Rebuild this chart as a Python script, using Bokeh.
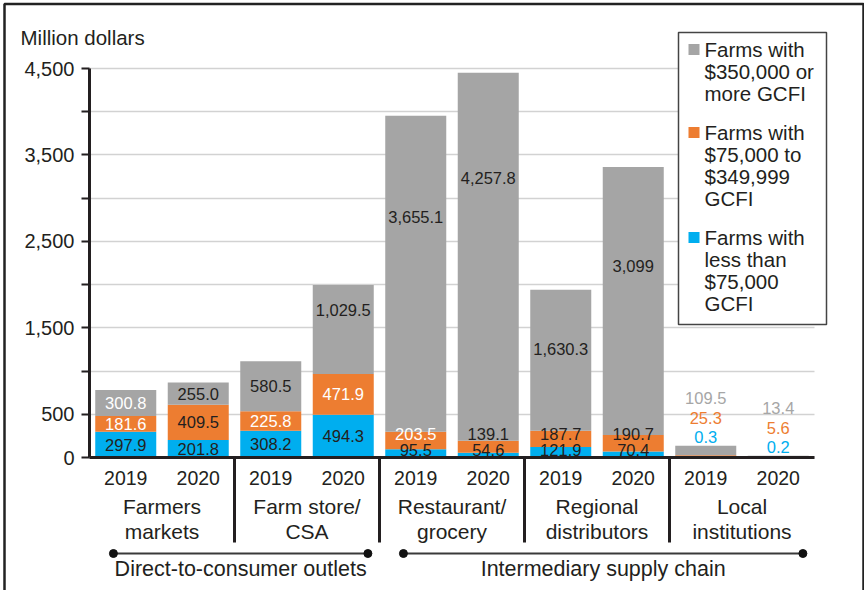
import numpy as np
from bokeh.plotting import figure
from bokeh.models import (ColumnDataSource, Range1d, FixedTicker, NumeralTickFormatter,
                          Label, BoxAnnotation, Grid)
from bokeh.core.properties import value
from bokeh.embed import file_html
from bokeh.resources import INLINE

# ---------------- data ----------------
channels = ["Farmers\nmarkets", "Farm store/\nCSA", "Restaurant/\ngrocery",
            "Regional\ndistributors", "Local\ninstitutions"]
years = ["2019", "2020"]
outlet_types = ["Direct-to-consumer outlets", "Intermediary supply chain"]
outlet_channel_count = [2, 3]
small_farms = [297.9, 201.8, 308.2, 494.3, 95.5, 54.6, 121.9, 70.4, 0.3, 0.2]
mid_farms = [181.6, 409.5, 225.8, 471.9, 203.5, 139.1, 187.7, 190.7, 25.3, 5.6]
large_farms = [300.8, 255.0, 580.5, 1029.5, 3655.1, 4257.8, 1630.3, 3099, 109.5, 13.4]
series_names = ["Farms with\n$350,000 or\nmore GCFI",
                "Farms with\n$75,000 to\n$349,999\nGCFI",
                "Farms with\nless than\n$75,000\nGCFI"]
y_ticks = [0, 500, 1000, 1500, 2000, 2500, 3000, 3500, 4000, 4500]
y_unlabeled = [1000, 2000, 3000, 4000]
y_axis_title = "Million dollars"

# ---------------- styles ----------------
FONT = "Liberation Sans"
DARK = "#231f20"
GRAY = "#a5a5a5"
ORANGE = "#ed7d31"
BLUE = "#00aeef"
WHITE = "#ffffff"
# where the gray-segment label sits (fraction of the segment, from its base)
gray_label_frac = [0.5, 0.5, 0.5, 0.72, 0.68, 0.715, 0.58, 0.632, 0.5, 0.5]
mid_label_white = [True, False, True, True, True, False, False, False, False, False]
large_label_white = [True, False, False, False, False, False, False, False, False, False]

# ---------------- layout (canvas px) ----------------
W, H = 864, 590
AX_PX = 89            # canvas x of the y axis
SLOT_PX = 72.5        # width of one bar slot
ZERO_PX, TOP_PX = 457, 68   # canvas y of 0 and 4500
upp = 4500.0 / (ZERO_PX - TOP_PX)  # data units per pixel


def dy(px):
    return px * upp


def ydata(canvas_y):
    return (ZERO_PX - canvas_y) * upp


n = len(small_farms)
xs = np.arange(n)
x_lo, x_hi = -0.5, n - 0.5
x_start = x_lo - AX_PX / SLOT_PX
x_end = x_lo + (W - AX_PX) / SLOT_PX

p = figure(width=W, height=H, x_range=Range1d(x_start, x_end),
           y_range=Range1d(ydata(H), ydata(0)),
           output_backend="svg", toolbar_location=None, x_axis_location=None,
           min_border_left=0, min_border_right=0, min_border_top=0, min_border_bottom=0,
           outline_line_color=None, background_fill_color="white",
           border_fill_color="white")
p.title.visible = False
p.xgrid.visible = False

# y axis (drawn at the left end of the bars)
ax = p.yaxis[0]
ax.fixed_location = x_lo
ax.ticker = FixedTicker(ticks=y_ticks)
ax.formatter = NumeralTickFormatter(format="0,0")
ax.major_label_overrides = {t: "" for t in y_unlabeled}
ax.bounds = (y_ticks[0], y_ticks[-1])
ax.axis_line_width = 3
ax.axis_line_color = DARK
ax.major_tick_line_width = 2
ax.major_tick_line_color = DARK
ax.major_tick_out = 8
ax.major_tick_in = 0
ax.minor_tick_line_color = None
ax.major_label_text_font = FONT
ax.major_label_text_font_size = "20px"
ax.major_label_text_color = DARK
ax.major_label_standoff = 7

g = p.ygrid[0]
g.ticker = FixedTicker(ticks=y_ticks)
g.grid_line_color = "#d2d2d2"
g.grid_line_width = 1.5
g.bounds = (y_ticks[0], y_ticks[-1])
if "cross_bounds" in Grid.properties():
    g.cross_bounds = (x_lo, x_hi)
else:
    g.visible = False
    p.segment(x0=[x_lo] * len(y_ticks), x1=[x_hi] * len(y_ticks), y0=y_ticks, y1=y_ticks,
              line_color="#d2d2d2", line_width=1.5, level="underlay")

# bars
src = ColumnDataSource(dict(x=xs, small=small_farms, mid=mid_farms, large=large_farms))
p.vbar_stack(["small", "mid", "large"], x="x", width=61 / SLOT_PX, source=src,
             fill_color=[BLUE, ORANGE, GRAY], line_color=None)

# baseline
p.segment(x0=[x_lo], y0=[0], x1=[x_hi], y1=[0], line_width=3, line_color=DARK)

# value labels
small = np.array(small_farms, float)
mid = np.array(mid_farms, float)
large = np.array(large_farms, float)
tot = small + mid + large


def fmt(v):
    return f"{v:,}" if isinstance(v, int) else f"{v:,.1f}"


lx, ly, lt, lc, lo = [], [], [], [], []
for i in range(n):
    if tot[i] > 400:
        ys = [max(small[i] / 2, dy(7.8)),
              max(small[i] + mid[i] / 2, dy(23.8)),
              small[i] + mid[i] + gray_label_frac[i] * large[i]]
        cols = [DARK, WHITE if mid_label_white[i] else DARK,
                WHITE if large_label_white[i] else DARK]
        offs = [0, 0, 0]
    else:
        ys = [tot[i]] * 3
        cols = [BLUE, ORANGE, "#a6a6a6"]
        offs = [-9, -28, -48]
    for v, yy, c, o in zip([small_farms[i], mid_farms[i], large_farms[i]], ys, cols, offs):
        lx.append(i); ly.append(yy); lt.append(fmt(v)); lc.append(c); lo.append(o)

lab_src = ColumnDataSource(dict(x=lx, y=ly, text=lt, color=lc, off=lo))
p.text(x="x", y="y", text="text", text_color="color", y_offset="off", source=lab_src,
       text_align="center", text_baseline="middle", text_font=value(FONT),
       text_font_size="16.5px")

# year labels
year_labels = [years[i % 2] for i in range(n)]
p.text(x=xs, y=[0] * n, text=year_labels, y_offset=20, text_align="center",
       text_baseline="middle", text_font=value(FONT), text_font_size="19.5px",
       text_color=DARK)

# channel labels (two lines each)
ch_x = [2 * k + 0.5 for k in range(len(channels))]
line1 = [c.split("\n")[0] for c in channels]
line2 = [c.split("\n")[1] for c in channels]
for txt, off in ((line1, 48.5), (line2, 74)):
    p.text(x=ch_x, y=[0] * len(ch_x), text=txt, y_offset=off, text_align="center",
           text_baseline="middle", text_font=value(FONT), text_font_size="21px",
           text_color=DARK)

# dividers between channels
div_x = [2 * k + 1.5 for k in range(len(channels) - 1)]
p.segment(x0=div_x, y0=[0] * len(div_x), x1=div_x, y1=[-dy(85)] * len(div_x),
          line_width=3, line_color=DARK)

# outlet brackets
start = 0
bx0, bx1, bxc = [], [], []
for cnt in outlet_channel_count:
    first = start * 2
    last = (start + cnt) * 2 - 1
    bx0.append(first - 0.17)
    bx1.append(last + 0.34)
    bxc.append((first - 0.17 + last + 0.34) / 2)
    start += cnt
by = -dy(96)
p.segment(x0=bx0, y0=[by] * 2, x1=bx1, y1=[by] * 2, line_width=2, line_color="#3a3a3a")
p.scatter(x=bx0 + bx1, y=[by] * 4, size=8, color="#111111")
p.text(x=bxc, y=[0] * 2, text=outlet_types, y_offset=111, text_align="center",
       text_baseline="middle", text_font=value(FONT), text_font_size="21.5px",
       text_color=DARK)

# y axis title
p.add_layout(Label(x=20, x_units="screen", y=ydata(37),
                   text=y_axis_title, text_baseline="middle", text_font=FONT,
                   text_font_size="20.5px", text_color=DARK))

# outer border
p.add_layout(BoxAnnotation(left=4, right=863, left_units="screen",
                           right_units="screen", top=ydata(3.5), bottom=ydata(H + 30),
                           fill_color=None, line_color="#222222", line_alpha=1.0,
                           line_width=2.5))

# legend
LG_L, LG_R, LG_T, LG_B = 678, 826, 32, 324
p.add_layout(BoxAnnotation(left=LG_L, right=LG_R, left_units="screen",
                           right_units="screen", top=ydata(LG_T), bottom=ydata(LG_B),
                           fill_color="white", fill_alpha=1.0, line_color="#444444",
                           line_alpha=1.0, line_width=1.5))
line_h, item_gap = 22, 17
cy = 49
for name, col in zip(series_names, [GRAY, ORANGE, BLUE]):
    p.add_layout(BoxAnnotation(left=688, right=699,
                               left_units="screen", right_units="screen",
                               top=ydata(cy - 5.5), bottom=ydata(cy + 5.5),
                               fill_color=col, fill_alpha=1.0, line_color=None))
    lines = name.split("\n")
    for j, ln in enumerate(lines):
        p.add_layout(Label(x=704, x_units="screen", y=ydata(cy + j * line_h),
                           text=ln, text_baseline="middle", text_font=FONT,
                           text_font_size="20.5px", text_color=DARK))
    cy += len(lines) * line_h + item_gap

open("out.html", "w").write(file_html(p, INLINE))
